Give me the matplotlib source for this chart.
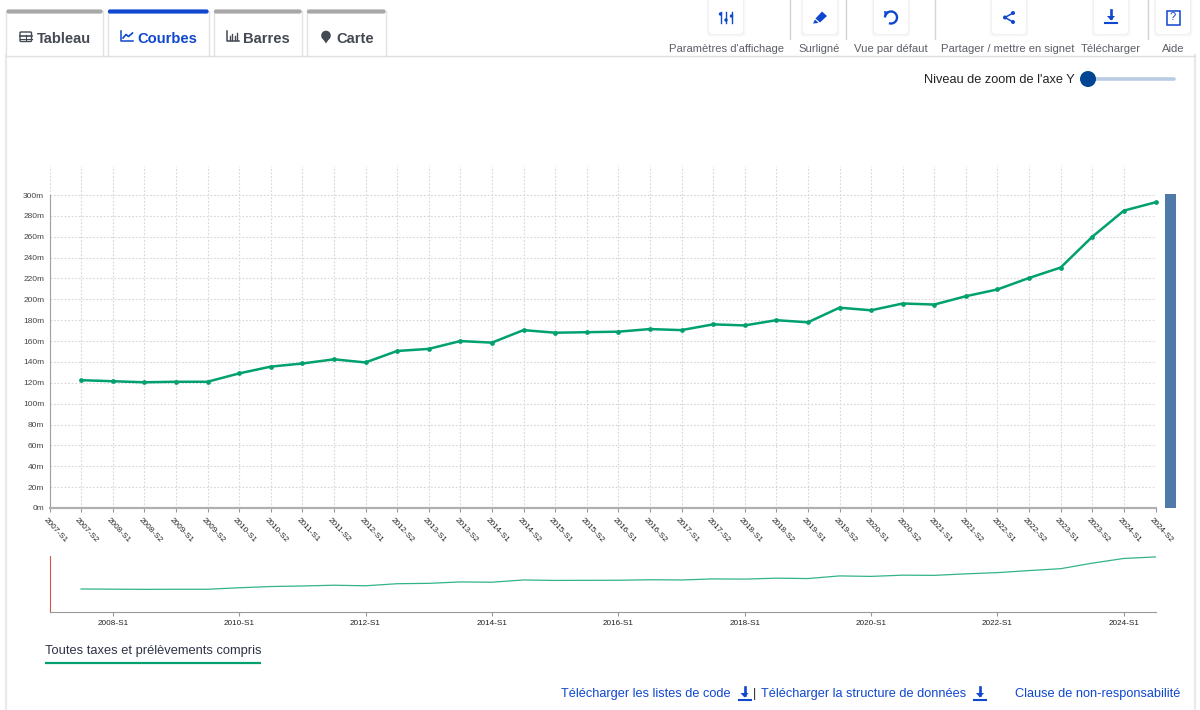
import matplotlib
matplotlib.use('Agg')
import matplotlib.pyplot as plt
from matplotlib.patches import FancyBboxPatch, Rectangle, Circle, Polygon, Arc
from matplotlib.transforms import ScaledTranslation

plt.rcParams['font.family'] = ['Liberation Sans', 'DejaVu Sans']

periodes = [f'{a}-S{s}' for a in range(2007, 2025) for s in (1, 2)]
valeurs = [None, 122.5, 121.5, 120.5, 121, 121, 129, 135.5, 138.5, 142.5, 139.5, 150.5,
           152.5, 160, 158.5, 170.5, 168, 168.5, 169, 171.5, 170.5, 176, 175, 180,
           178, 192, 189.5, 196, 195, 203, 209.5, 220.5, 230.5, 260, 285, 293]
y_ticks = list(range(0, 301, 20))
onglets = ['Tableau', 'Courbes', 'Barres', 'Carte']
boutons = ["Paramètres d'affichage", 'Surligné', 'Vue par défaut',
           'Partager / mettre en signet', 'Télécharger', 'Aide']
legende = 'Toutes taxes et prélèvements compris'

VERT = '#00a06f'
BLEU = '#0f47cf'
GRIS = '#999999'

W, H = 1200, 710
fig = plt.figure(figsize=(12, 7.1), dpi=100, facecolor='white')


def axes_px(x0, y0, x1, y1):
    return fig.add_axes([x0 / W, 1 - y1 / H, (x1 - x0) / W, (y1 - y0) / H])


# fond de page en pixels
ui = fig.add_axes([0, 0, 1, 1], zorder=0)
ui.set_xlim(0, W)
ui.set_ylim(H, 0)
ui.axis('off')

# cadre du panneau
ui.plot([6, 6], [55, 710], color='#e9e9e9', lw=1.6)
ui.plot([1195, 1195], [55, 710], color='#e9e9e9', lw=1.6)
ui.plot([6, 1195], [55.5, 55.5], color='#dddddd', lw=1)

# onglets
tabs = [(6, 103), (107.5, 209), (213.5, 302), (306.5, 386)]
tab_txt = [37, 137, 243, 336]
for i, (a, b) in enumerate(tabs):
    actif = onglets[i] == 'Courbes'
    ui.add_patch(Rectangle((a, 11), b - a, 44.5, fc='white', ec='#e2e2e2', lw=1, zorder=2))
    ui.add_patch(FancyBboxPatch((a + 1, 10), b - a - 2, 3, boxstyle='round,pad=0.6,rounding_size=2',
                                fc=BLEU if actif else '#a8a8a8', ec='none', zorder=3))
    ui.text(tab_txt[i], 39, onglets[i], fontsize=10.6, fontweight='bold', va='center',
            color=BLEU if actif else '#444953', zorder=4)

# icones des onglets
c = '#444953'
ui.add_patch(FancyBboxPatch((20, 32), 11.5, 9.5, boxstyle='round,pad=0,rounding_size=1', fc='none', ec=c, lw=1, zorder=4))
ui.plot([20, 31.5], [35.5, 35.5], color=c, lw=1.2, zorder=4)
ui.plot([25.7, 25.7], [35, 41], color=c, lw=0.8, zorder=4)
ui.plot([20, 31.5], [38.5, 38.5], color=c, lw=0.8, zorder=4)
ui.plot([121, 121, 133], [31, 41, 41], color=BLEU, lw=1.1, zorder=4)
ui.plot([123, 126, 128.5, 132.5], [38, 34.5, 36.5, 33], color=BLEU, lw=1.2, zorder=4)
ui.plot([227, 227, 239], [31, 41, 41], color=c, lw=1.1, zorder=4)
for bx, bh in zip([229.5, 232, 234.5, 237], [4, 6, 3.5, 7]):
    ui.plot([bx, bx], [39.5, 39.5 - bh], color=c, lw=1, zorder=4)
ui.add_patch(Circle((326, 35.5), 4.8, fc=c, ec='none', zorder=4))
ui.add_patch(Polygon([(321.6, 37), (330.4, 37), (326, 43.5)], fc=c, ec='none', zorder=4))

# boutons du haut
centres = [726, 820, 891, 1009, 1111, 1173]
for cx in centres:
    for d, a in zip((3, 2, 1), (0.012, 0.018, 0.025)):
        ui.add_patch(FancyBboxPatch((cx - 17 - d, -6 - d), 34 + 2 * d, 40 + 2 * d,
                                    boxstyle='round,pad=0,rounding_size=4', fc='black', ec='none', alpha=a, zorder=1))
    ui.add_patch(FancyBboxPatch((cx - 17, -6), 34, 40, boxstyle='round,pad=0,rounding_size=4',
                                fc='white', ec='none', zorder=2))
for sx in [790, 846, 935, 1148]:
    ui.plot([sx, sx], [0, 39], color='#d4d4d4', lw=1, zorder=2)
lab_x = [726.5, 819, 891, 1008, 1111, 1173.5]
for x, t in zip(lab_x, boutons):
    ui.text(x, 49, t, fontsize=8.15, color='#5b5f66', ha='center', va='center')

# icones des boutons
for bx, knob in zip([720.5, 726, 731.5], [14, 20, 16]):
    ui.plot([bx, bx], [12, 23], color=BLEU, lw=1, zorder=4)
    ui.add_patch(Circle((bx, knob), 1.7, fc=BLEU, ec='none', zorder=5))
ui.add_patch(Polygon([(822, 11.5), (827, 16), (820, 22.5), (815.5, 18.5)], fc=BLEU, ec='none', zorder=4))
ui.add_patch(Polygon([(815, 19.5), (818.5, 23), (813, 23.5)], fc=BLEU, ec='none', zorder=4))
ui.add_patch(Arc((891, 17.5), 12, 12, theta1=-180, theta2=110, color=BLEU, lw=1.7, zorder=4))
ui.add_patch(Polygon([(884, 11), (889.5, 12), (885, 17)], fc=BLEU, ec='none', zorder=4))
ui.plot([1013, 1005, 1013], [13, 17.5, 22], color=BLEU, lw=1.1, zorder=4)
for px, py in [(1013, 13), (1005, 17.5), (1013, 22)]:
    ui.add_patch(Circle((px, py), 2, fc=BLEU, ec='none', zorder=5))


def fleche(x, y, s=1.0, coul=BLEU):
    ui.plot([x, x], [y - 7 * s, y + 1 * s], color=coul, lw=1.9, zorder=4)
    ui.add_patch(Polygon([(x - 4 * s, y - 1 * s), (x + 4 * s, y - 1 * s), (x, y + 3.5 * s)],
                         fc=coul, ec='none', zorder=4))
    ui.plot([x - 6 * s, x + 6 * s], [y + 6 * s, y + 6 * s], color=coul, lw=1.5, zorder=4)


fleche(1111, 17)
ui.add_patch(Rectangle((1166.5, 10.5), 13, 14, fc='none', ec=BLEU, lw=1.1, zorder=4))
ui.text(1173, 17.5, '?', fontsize=8, color=BLEU, ha='center', va='center', zorder=5)

# curseur de zoom
ui.text(1075, 80, "Niveau de zoom de l'axe Y", fontsize=9.2, color='#222222', ha='right', va='center')
ui.plot([1088, 1174], [79, 79], color='#b9cbe3', lw=2.6, solid_capstyle='round')
ui.add_patch(Circle((1088, 79), 8, fc='#004494', ec='none', zorder=3))

# barre laterale bleue
ui.add_patch(Rectangle((1165, 194), 11, 313.5, fc='#4f79a9', ec='none'))

# graphique principal
x = list(range(len(periodes)))
serie = [float('nan') if v is None else v for v in valeurs]
ax = axes_px(49.5, 166, 1155.5, 508)
ax.patch.set_alpha(0)
ax.set_xlim(0, 35)
ax.set_ylim(0, 342 / (313 / 300))
ax.plot(x, serie, color=VERT, lw=1.8, marker='o', ms=2.4, clip_on=False, zorder=3)
ax.set_yticks(y_ticks)
ax.set_yticklabels([f'{v}m' for v in y_ticks], fontsize=6, color='#444444')
ax.set_xticks(x)
ax.set_xticklabels(periodes, fontsize=5.9, color='#222222', rotation=-47, ha='left',
                   va='top', rotation_mode='anchor')
ax.grid(True, color='#d8d8d8', lw=0.8, ls=(0, (1.6, 1.6)))
ax.set_axisbelow(True)
for s in ('top', 'right'):
    ax.spines[s].set_visible(False)
ax.spines['left'].set_color('#a0a0a0')
ax.spines['left'].set_bounds(0, 300)
ax.spines['bottom'].set_color('#b0b0b0')
ax.spines['bottom'].set_linewidth(1.6)
ax.tick_params(axis='x', length=3, color=GRIS, pad=3)
ax.tick_params(axis='y', length=0, pad=3.8)
# tick_params remet le transform, donc decalage apres
decale = ScaledTranslation(-2.5 / 100, 0, fig.dpi_scale_trans)
for lab in ax.get_xticklabels():
    lab.set_transform(lab.get_transform() + decale)

# apercu
mini = axes_px(49.5, 556, 1155.5, 612)
mini.patch.set_alpha(0)
mini.set_xlim(0, 35)
mini.set_ylim(0, 298)
mini.plot(x, serie, color=VERT, lw=0.9, alpha=0.8)
mini.set_yticks([])
mini.set_xticks(x[2::4])
mini.set_xticklabels(periodes[2::4], fontsize=5.9, color='#222222')
for s in ('top', 'right'):
    mini.spines[s].set_visible(False)
mini.spines['left'].set_color('#d9534f')
mini.spines['bottom'].set_color(GRIS)
mini.tick_params(axis='x', length=3, color=GRIS, pad=3)

# legende et liens du bas
ui.text(45, 651, legende, fontsize=9.25, color='#2c3345', va='center')
ui.plot([45, 261], [663, 663], color=VERT, lw=1.6, solid_capstyle='butt')
ui.text(561, 694, 'Télécharger les listes de code', fontsize=9.2, color=BLEU, va='center')
fleche(744.5, 694)
ui.text(755, 694, '|', fontsize=9.2, color='#222222', ha='center', va='center')
ui.text(761, 694, 'Télécharger la structure de données', fontsize=9.2, color=BLEU, va='center')
fleche(980, 694)
ui.text(1015, 694, 'Clause de non-responsabilité', fontsize=9.2, color=BLEU, va='center')

fig.savefig('out.png', dpi=100)
